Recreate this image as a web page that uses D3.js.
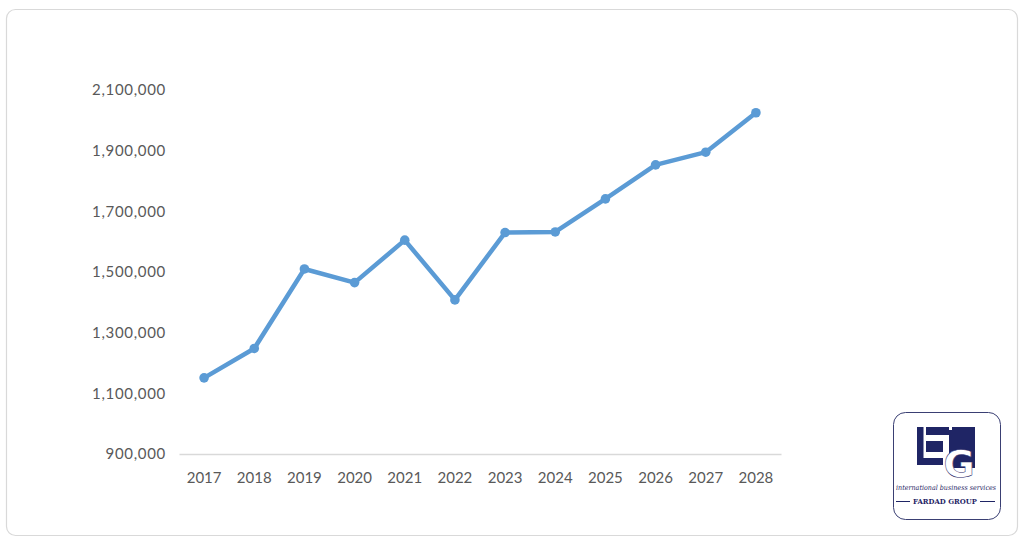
<!DOCTYPE html>
<html><head><meta charset="utf-8">
<script src="https://cdn.jsdelivr.net/npm/d3@7"></script>
<style>body{margin:0;background:#fff;}svg{display:block;}</style>
</head><body>
<script>
const years = ["2017","2018","2019","2020","2021","2022","2023","2024","2025","2026","2027","2028"];
const values = [1151000,1248000,1510000,1465000,1605000,1408000,1630000,1632000,1741000,1853000,1895000,2025000];
const yTicks = [900000,1100000,1300000,1500000,1700000,1900000,2100000];

const W=1024,H=544;
const svg=d3.select("body").append("svg").attr("width",W).attr("height",H);
svg.append("rect").attr("x",6.5).attr("y",9.5).attr("width",1011).attr("height",526).attr("rx",9)
  .attr("fill","#fff").attr("stroke","#d9d9d9").attr("stroke-width",1.2);

const x=d3.scaleBand().domain(years).range([179,781]);
const y=d3.scaleLinear().domain([900000,2100000]).range([454,90]);
const fmt=d3.format(",");
const font="Lato, 'Open Sans', sans-serif";

const ya=svg.append("g").attr("transform","translate(166,0)")
  .call(d3.axisLeft(y).tickValues(yTicks).tickSize(0).tickPadding(0).tickFormat(fmt));
ya.select(".domain").remove();
ya.selectAll("text").attr("fill","#595959").style("font-family",font).style("font-size","15px")
  .style("letter-spacing","0.7px");

const xa=svg.append("g").attr("transform","translate(0,454)")
  .call(d3.axisBottom(x).tickSize(0).tickPadding(18));
xa.select(".domain").attr("stroke","#d9d9d9").attr("stroke-width",1.5);
xa.selectAll("text").attr("fill","#595959").style("font-family",font).style("font-size","15px");

const cx=d=>x(d)+x.bandwidth()/2;
const line=d3.line().x((d,i)=>cx(years[i])).y(d=>y(d));
svg.append("path").datum(values).attr("d",line).attr("fill","none")
  .attr("stroke","#5b9bd5").attr("stroke-width",4.5).attr("stroke-linejoin","round");
svg.selectAll("circle.pt").data(values).join("circle").attr("class","pt")
  .attr("cx",(d,i)=>cx(years[i])).attr("cy",d=>y(d)).attr("r",4.8).attr("fill","#5b9bd5");

// logo
const lg=svg.append("g");
const navy="#1f2565";
lg.append("rect").attr("x",893.5).attr("y",412.5).attr("width",107).attr("height",107).attr("rx",12)
  .attr("fill","#fff").attr("stroke","#3a3f73").attr("stroke-width",1);
const blocks=[[917,427,6.5,38],[917,458,26,7],[926,427,23,8],[952,427,23,41],[949,430,3,38],[926,441,17,11]];
blocks.forEach(b=>lg.append("rect").attr("x",b[0]).attr("y",b[1]).attr("width",b[2]).attr("height",b[3]).attr("fill",navy));
lg.append("text").attr("x",959).attr("y",477).attr("text-anchor","middle")
  .attr("fill","#fff").attr("stroke",navy).attr("stroke-width",0.5)
  .style("font-family","'DejaVu Sans', sans-serif").style("font-weight","bold").style("font-size","38px").text("G");
lg.append("text").attr("x",946).attr("y",490).attr("text-anchor","middle").attr("fill",navy)
  .attr("textLength",100).attr("lengthAdjust","spacingAndGlyphs")
  .style("font-family","'DejaVu Serif', serif").style("font-style","italic").style("font-size","7px")
  .text("international business services");
lg.append("text").attr("x",945).attr("y",504).attr("text-anchor","middle").attr("fill",navy)
  .attr("textLength",64).attr("lengthAdjust","spacingAndGlyphs")
  .style("font-family","'DejaVu Serif', serif").style("font-weight","bold").style("font-size","8px")
  .text("FARDAD GROUP");
lg.append("line").attr("x1",896).attr("x2",910).attr("y1",501.5).attr("y2",501.5).attr("stroke",navy).attr("stroke-width",1);
lg.append("line").attr("x1",980).attr("x2",995).attr("y1",501.5).attr("y2",501.5).attr("stroke",navy).attr("stroke-width",1);
</script>
</body></html>
